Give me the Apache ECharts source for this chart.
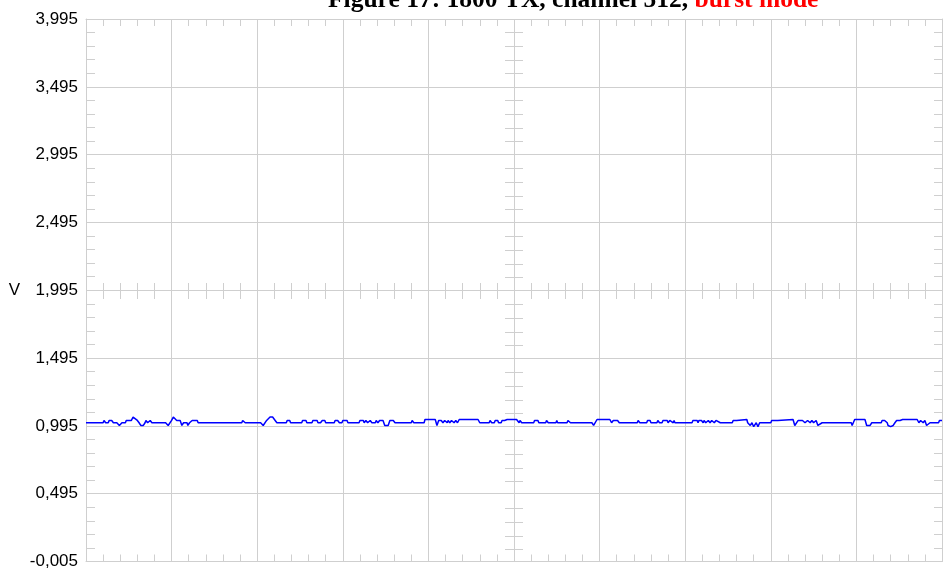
<!DOCTYPE html>
<html>
<head>
<meta charset="utf-8">
<script src="https://cdn.jsdelivr.net/npm/echarts@6/dist/echarts.min.js"></script>
<style>
  html, body { margin: 0; padding: 0; background: #fff; }
  #chart { width: 950px; height: 570px; }
</style>
</head>
<body>
<div id="chart"></div>
<script>
// ---- data ----
const titleBlack = 'Figure 17: 1800 TX, channel 512, ';
const titleRed = 'burst mode';
const yName = 'V';
const yMin = -0.005;
const yMax = 3.995;
const yStep = 0.5;
const tMin = 0;
const tMax = 1000;
const tStep = 100;
// trace: [time (arbitrary units 0..1000), volts]
const trace = [
  [0,1.018],[20,1.018],[21,1.035],[23,1.018],[26,1.018],[27,1.035],[30,1.035],[32,1.018],
  [36,1.018],[39,0.998],[41,0.998],[42,1.018],[46,1.018],[47,1.035],[53,1.035],[55,1.060],
  [57,1.060],[60,1.035],[62,1.018],[64,0.998],[67,0.998],[69,1.018],[70,1.035],[72,1.018],
  [75,1.035],[77,1.018],[93,1.018],[96,0.998],[98,0.998],[100,1.035],[102,1.060],[104,1.060],
  [106,1.035],[110,1.035],[112,0.998],[114,1.018],[118,1.018],[119,0.998],[121,1.018],[124,1.035],
  [130,1.035],[131,1.018],[182,1.018],[183,1.035],[186,1.018],[204,1.018],[207,0.998],[209,0.998],
  [211,1.035],[215,1.060],[218,1.060],[221,1.035],[223,1.018],[234,1.018],[235,1.035],[238,1.035],
  [239,1.018],[252,1.018],[253,1.035],[257,1.035],[258,1.018],[264,1.018],[265,1.035],[270,1.035],
  [271,1.018],[274,1.018],[276,1.035],[279,1.035],[280,1.018],[290,1.018],[291,1.035],[294,1.035],
  [296,1.018],[299,1.018],[300,1.035],[305,1.035],[306,1.018],[319,1.018],[320,1.035],[324,1.035],
  [325,1.018],[327,1.035],[329,1.018],[332,1.035],[334,1.018],[338,1.018],[339,1.035],[341,1.018],
  [343,1.035],[347,1.035],[349,0.998],[353,0.998],[355,1.035],[359,1.035],[361,1.018],[380,1.018],
  [381,1.035],[383,1.018],[395,1.018],[396,1.042],[408,1.042],[410,0.998],[412,1.035],[415,1.035],
  [417,1.018],[419,1.035],[422,1.018],[423,1.035],[425,1.018],[427,1.035],[430,1.018],[432,1.035],
  [434,1.018],[436,1.042],[458,1.042],[460,1.018],[471,1.018],[472,1.035],[474,1.018],[477,1.018],
  [478,1.035],[481,1.035],[482,1.018],[485,1.018],[486,1.035],[489,1.035],[492,1.042],[503,1.042],
  [506,1.018],[507,1.035],[509,1.018],[523,1.018],[524,1.035],[528,1.035],[529,1.018],[537,1.018],
  [538,1.035],[540,1.018],[549,1.018],[550,1.035],[551,1.018],[562,1.018],[563,1.035],[565,1.035],
  [566,1.018],[591,1.018],[593,0.998],[595,0.998],[597,1.042],[612,1.042],[614,1.018],[616,1.035],
  [621,1.035],[623,1.018],[644,1.018],[645,1.035],[647,1.018],[655,1.018],[656,1.035],[659,1.035],
  [660,1.018],[667,1.018],[668,1.035],[670,1.018],[673,1.018],[674,1.035],[679,1.035],[680,1.018],
  [682,1.035],[684,1.035],[686,1.018],[687,1.035],[688,1.018],[708,1.018],[709,1.035],[714,1.035],
  [715,1.018],[716,1.035],[719,1.035],[721,1.018],[722,1.035],[724,1.018],[727,1.035],[729,1.018],
  [731,1.035],[734,1.018],[736,1.035],[738,1.035],[741,1.018],[755,1.018],[756,1.035],[760,1.035],
  [762,1.042],[772,1.042],[773,1.018],[776,0.998],[778,1.018],[780,0.989],[783,1.018],[785,0.989],
  [787,1.018],[800,1.018],[801,1.035],[808,1.035],[809,1.042],[826,1.042],[828,0.998],[830,0.998],
  [832,1.035],[837,1.035],[840,1.018],[843,1.035],[846,1.018],[848,1.035],[850,1.018],[853,1.035],
  [855,0.998],[857,0.998],[860,1.018],[894,1.018],[895,0.998],[896,0.998],[898,1.042],[910,1.042],
  [912,0.998],[916,0.998],[918,1.018],[929,1.018],[930,1.035],[933,1.035],[936,1.018],[937,0.998],
  [940,0.989],[943,0.998],[945,1.018],[947,1.035],[951,1.035],[954,1.042],[971,1.042],[973,1.018],
  [975,1.035],[978,1.018],[980,1.035],[982,0.998],[983,0.998],[986,1.018],[996,1.018],[997,1.035],
  [1000,1.035]
];

// ---- styling ----
const GRID = '#cfcfcf';
const LABEL_FONT = 'Liberation Sans';
const chart = echarts.init(document.getElementById('chart'), null, { renderer: 'canvas' });

const hiddenLabel = { show: false };
function xBase(extra) {
  return Object.assign({
    type: 'value', min: tMin, max: tMax, interval: tStep,
    axisLabel: hiddenLabel,
    axisTick: { show: false, inside: true },
    axisLine: { show: false, onZero: false },
    splitLine: { show: false },
    minorTick: { show: true, splitNumber: 5, length: 7, lineStyle: { color: GRID, width: 1 } }
  }, extra);
}
function yBase(extra) {
  return Object.assign({
    type: 'value', min: yMin, max: yMax, interval: yStep,
    axisLabel: hiddenLabel,
    axisTick: { show: false, inside: true },
    axisLine: { show: false, onZero: false },
    splitLine: { show: false },
    minorTick: { show: true, splitNumber: 5, length: 9, lineStyle: { color: GRID, width: 1 } }
  }, extra);
}

const option = {
  animation: false,
  backgroundColor: '#ffffff',
  title: {
    left: 328, top: -14, padding: 0,
    text: '{a|' + titleBlack + '}{b|' + titleRed + '}',
    textStyle: {
      rich: {
        a: { fontFamily: 'Liberation Serif', fontWeight: 'bold', fontSize: 25.5, color: '#000', lineHeight: 28 },
        b: { fontFamily: 'Liberation Serif', fontWeight: 'bold', fontSize: 25.5, color: '#ff0000', lineHeight: 28 }
      }
    }
  },
  grid: [
    { left: 86, right: 8, top: 19, bottom: 7 },
    { left: 86, right: 8, top: 19, height: 272 },
    { left: 86, width: 428, top: 19, bottom: 7 }
  ],
  xAxis: [
    xBase({ gridIndex: 0, position: 'bottom',
      axisLine: { show: true, onZero: false, lineStyle: { color: GRID, width: 1 } },
      splitLine: { show: true, lineStyle: { color: GRID, width: 1 } } }),
    xBase({ gridIndex: 0, position: 'top',
      axisLine: { show: true, onZero: false, lineStyle: { color: GRID, width: 1 } } }),
    xBase({ gridIndex: 1, position: 'bottom',
      minorTick: { show: true, splitNumber: 5, length: 8, lineStyle: { color: GRID, width: 1 } } }),
    xBase({ gridIndex: 1, position: 'bottom', axisTick: { show: false, inside: false },
      minorTick: { show: true, splitNumber: 5, length: 8, lineStyle: { color: GRID, width: 1 } } }),
    { type: 'value', gridIndex: 2, min: 0, max: 500, show: false }
  ],
  yAxis: [
    yBase({ gridIndex: 0, position: 'left',
      name: yName, nameLocation: 'middle', nameRotate: 0, nameGap: 66,
      nameTextStyle: { fontFamily: LABEL_FONT, fontSize: 17, color: '#000' },
      axisLine: { show: true, onZero: false, lineStyle: { color: GRID, width: 1 } },
      splitLine: { show: true, lineStyle: { color: GRID, width: 1 } },
      axisLabel: {
        show: true, margin: 8, color: '#000', fontFamily: LABEL_FONT, fontSize: 17,
        showMinLabel: true, showMaxLabel: true,
        formatter: v => v.toFixed(3).replace('.', ',')
      } }),
    yBase({ gridIndex: 0, position: 'right',
      axisLine: { show: true, onZero: false, lineStyle: { color: GRID, width: 1 } },
      minorTick: { show: true, splitNumber: 5, length: 8, lineStyle: { color: GRID, width: 1 } } }),
    { type: 'value', gridIndex: 1, min: 0, max: 1, show: false },
    yBase({ gridIndex: 2, position: 'right' }),
    yBase({ gridIndex: 2, position: 'right', axisTick: { show: false, inside: false } })
  ],
  series: [{
    type: 'line',
    xAxisIndex: 0, yAxisIndex: 0,
    data: trace,
    showSymbol: false,
    symbol: 'none',
    lineStyle: { color: '#0000ff', width: 1.5 },
    z: 5
  }]
};
chart.setOption(option);
</script>
</body>
</html>
